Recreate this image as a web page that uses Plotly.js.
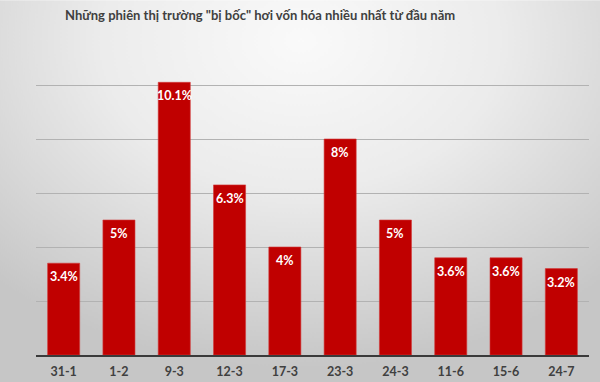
<!DOCTYPE html>
<html>
<head>
<meta charset="utf-8">
<script src="https://cdn.plot.ly/plotly-3.0.1.min.js"></script>
<style>html,body{margin:0;padding:0;background:#fff;}#chart{width:600px;height:382px;}</style>
</head>
<body>
<div id="chart"></div>
<script>
const chartTitle = 'Những phiên thị trường "bị bốc" hơi vốn hóa nhiều nhất từ đầu năm';
const sessions = ['31-1', '1-2', '9-3', '12-3', '17-3', '23-3', '24-3', '11-6', '15-6', '24-7'];
const capLossPct = [3.4, 5, 10.1, 6.3, 4, 8, 5, 3.6, 3.6, 3.2];
const yTicks = [0, 2, 4, 6, 8, 10, 12];

// background gradient (radial, light at top centre)
function makeBg() {
  const c = document.createElement('canvas');
  c.width = 600; c.height = 382;
  const ctx = c.getContext('2d');
  ctx.fillStyle = '#c6c6c6';
  ctx.fillRect(0, 0, 600, 382);
  ctx.save();
  ctx.translate(300, 40);
  ctx.scale(1.35, 1);
  const g = ctx.createRadialGradient(0, 0, 0, 0, 0, 330);
  g.addColorStop(0, '#fafafa');
  g.addColorStop(0.45, '#ececec');
  g.addColorStop(1, '#c6c6c6');
  ctx.fillStyle = g;
  ctx.fillRect(-300, -60, 600, 420);
  ctx.restore();
  return c.toDataURL('image/png');
}

const fontFam = 'Lato, Open Sans, sans-serif';

const trace = {
  type: 'bar',
  x: sessions,
  y: capLossPct,
  marker: { color: '#c00000', line: { color: '#d23a3a', width: 0.6 } },
  hoverinfo: 'none'
};

const annotations = sessions.map((s, i) => ({
  x: s, y: capLossPct[i], xref: 'x', yref: 'y',
  text: capLossPct[i] + '%',
  showarrow: false, yanchor: 'top', yshift: -4,
  font: { family: fontFam, size: 12.5, color: '#ffffff', weight: 'bold' }
}));

annotations.push({
  xref: 'paper', yref: 'paper', x: (260 - 36) / 552.7, y: 1,
  xanchor: 'center', yanchor: 'bottom', yshift: 6,
  text: '<b>' + chartTitle + '</b>', showarrow: false,
  font: { family: fontFam, size: 13, color: '#404040' }
});

const layout = {
  width: 600, height: 382,
  margin: { l: 36, r: 11.3, t: 30.7, b: 27.3, pad: 0 },
  paper_bgcolor: 'rgba(0,0,0,0)',
  plot_bgcolor: 'rgba(0,0,0,0)',
  showlegend: false,
  bargap: 0.42,
  images: [{
    source: makeBg(), xref: 'paper', yref: 'paper',
    x: -36 / 552.7, y: 1 + 30.7 / 324, sizex: 600 / 552.7, sizey: 382 / 324,
    xanchor: 'left', yanchor: 'top', sizing: 'stretch', layer: 'below'
  }],
  xaxis: {
    type: 'category',
    showgrid: false,
    showline: true, linecolor: '#3a3a3a', linewidth: 1.5,
    ticks: '',
    tickfont: { family: fontFam, size: 12.5, color: '#404040', weight: 'bold' },
    ticklabelstandoff: 4
  },
  yaxis: {
    range: [0, 12],
    tickvals: yTicks,
    showticklabels: false,
    showgrid: true, gridcolor: '#b2b2b2', gridwidth: 1,
    zeroline: false, showline: false
  },
  annotations: annotations
};

Plotly.newPlot('chart', [trace], layout, { staticPlot: true, displayModeBar: false });
</script>
</body>
</html>
